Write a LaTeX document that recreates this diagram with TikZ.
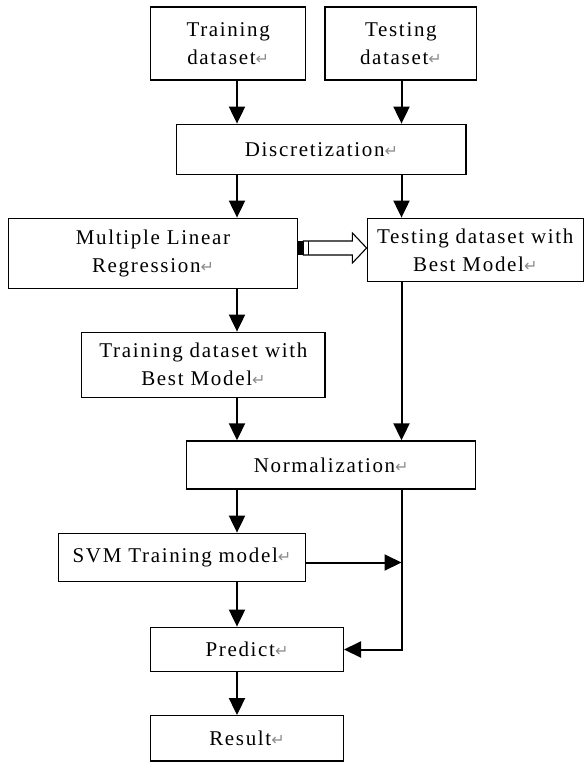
\documentclass[tikz,border=0pt]{standalone}
\usepackage{fontspec}
\setmainfont{Liberation Serif}[LetterSpace=8]
\newfontfamily\markfont{DejaVu Sans}
\usetikzlibrary{arrows.meta,calc}
\definecolor{Ink}{HTML}{000000}
\definecolor{Mark}{HTML}{8C8C8C}
\newcommand{\pmark}{{\markfont\fontsize{16}{16}\selectfont\color{Mark}↵}}
\tikzset{
  stage/.style={
    draw=Ink, line width=1.4pt, fill=white, align=center,
    inner sep=0pt, font=\fontsize{21}{28}\selectfont
  },
  flow/.style={-{Triangle[length=17pt,width=16pt]}, line width=2pt, draw=Ink},
  hollow/.style={draw=Ink, line width=1.1pt, fill=white}
}

\begin{document}
\begin{tikzpicture}[x=1pt,y=-1pt]
    \useasboundingbox (0,0) rectangle (585,762);
    \coordinate (lc) at (237,0);
    \coordinate (rc) at (401.5,0);
    \node[stage,minimum width=155pt,minimum height=73pt] (train) at (228.2,43.5) {Training\\dataset\pmark};
    \node[stage,minimum width=151.7pt,minimum height=73pt] (test) at (400.9,43.5) {Testing\\dataset\pmark};
    \node[stage,minimum width=289.3pt,minimum height=50pt] (disc) at (321.4,149.3) {Discretization\pmark};
    \node[stage,minimum width=289.4pt,minimum height=70pt] (mlr) at (153,253.3) {Multiple Linear\\Regression\pmark};
    \node[stage,minimum width=216pt,minimum height=63.4pt] (testbm) at (475.3,250) {Testing dataset with\\Best Model\pmark};
    \node[stage,minimum width=243.3pt,minimum height=65pt] (trainbm) at (203.4,364.8) {Training dataset with\\Best Model\pmark};
    \node[stage,minimum width=289pt,minimum height=48pt] (norm) at (331.2,465) {Normalization\pmark};
    \node[stage,minimum width=247.4pt,minimum height=48.4pt] (svm) at (182,557.5) {SVM Training model\pmark};
    \node[stage,minimum width=192.6pt,minimum height=44.4pt] (pred) at (247,649.5) {Predict\pmark};
    \node[stage,minimum width=192.6pt,minimum height=45.3pt] (res) at (247,738.4) {Result\pmark};
    \draw[flow] (train.south -| lc) -- (disc.north -| lc);
    \draw[flow] (test.south -| rc) -- (disc.north -| rc);
    \draw[flow] (disc.south -| lc) -- (mlr.north -| lc);
    \draw[flow] (disc.south -| rc) -- (testbm.north -| rc);
    \draw[flow] (mlr.south -| lc) -- (trainbm.north -| lc);
    \draw[flow] (trainbm.south -| lc) -- (norm.north -| lc);
    \draw[flow] (testbm.south -| rc) -- (norm.north -| rc);
    \draw[flow] (norm.south -| lc) -- (svm.north -| lc);
    \draw[flow] ([yshift=-5pt]svm.east) -- ([yshift=-5pt]svm.east -| rc);
    \draw[flow] (norm.south -| rc) |- (pred.east);
    \draw[flow] (svm.south -| lc) -- (pred.north -| lc);
    \draw[flow] (pred.south -| lc) -- (res.north -| lc);
    % block arrow from the regression to the testing set
    \coordinate (h0) at (mlr.east |- 0,248);
    \fill[Ink] ($(h0)+(0,-7)$) rectangle ($(h0)+(5,7)$);
    \draw[hollow] ($(h0)+(5,-7)$) -- ($(h0)+(54,-7)$) -- ($(h0)+(54,-15)$) -- (testbm.west |- h0)
      -- ($(h0)+(54,15)$) -- ($(h0)+(54,7)$) -- ($(h0)+(5,7)$) -- cycle;
    \draw[hollow] ($(h0)+(10,-7)$) -- ($(h0)+(10,7)$);
\end{tikzpicture}
\end{document}
